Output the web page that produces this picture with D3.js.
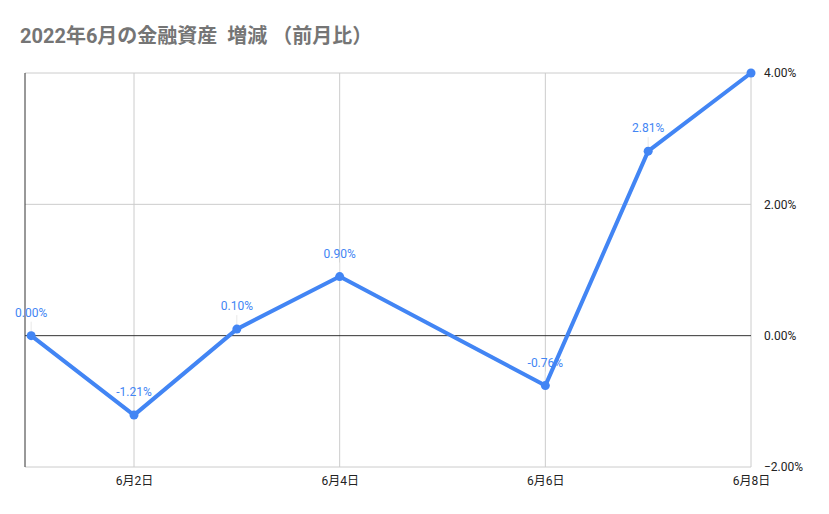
<!DOCTYPE html>
<html>
<head>
<meta charset="utf-8">
<script src="https://cdn.jsdelivr.net/npm/d3@7"></script>
<style>
  body { margin: 0; background: #fff; }
  text { font-family: Roboto, "Noto Sans CJK JP", sans-serif; }
</style>
</head>
<body>
<svg id="chart"></svg>
<script>
// data
const days = [1, 2, 3, 4, 6, 7, 8];
const values = [0.0, -1.21, 0.1, 0.9, -0.76, 2.81, 4.0];
const labels = ["0.00%", "-1.21%", "0.10%", "0.90%", "-0.76%", "2.81%", ""];
const xTicks = [2, 4, 6, 8];
const yTicks = [-2, 0, 2, 4];

const width = 829;
const height = 514;
const margin = { top: 73, right: 78, bottom: 47, left: 25 };

const svg = d3.select("#chart")
  .attr("width", width)
  .attr("height", height);

// title
svg.append("text")
  .attr("x", 20)
  .attr("y", 43)
  .style("font-size", "20px")
  .style("font-weight", "bold")
  .style("fill", "#757575")
  .style("white-space", "pre")
  .text("2022年6月の金融資産  増減 （前月比）");

const x = d3.scaleLinear()
  .domain([0.94, 8])
  .range([margin.left, width - margin.right]);

const y = d3.scaleLinear()
  .domain([-2, 4])
  .range([height - margin.bottom, margin.top]);

const g = svg.append("g");

// grid lines
g.selectAll("line.hgrid")
  .data(yTicks.filter(d => d !== 0))
  .enter()
  .append("line")
  .attr("x1", x.range()[0])
  .attr("x2", x.range()[1])
  .attr("y1", d => y(d))
  .attr("y2", d => y(d))
  .attr("stroke", "#cccccc")
  .attr("stroke-width", 1);

g.selectAll("line.vgrid")
  .data(xTicks)
  .enter()
  .append("line")
  .attr("x1", d => x(d))
  .attr("x2", d => x(d))
  .attr("y1", y.range()[0])
  .attr("y2", y.range()[1])
  .attr("stroke", "#cccccc")
  .attr("stroke-width", 1);

// zero line and left axis line
g.append("line")
  .attr("x1", x.range()[0])
  .attr("x2", x.range()[1])
  .attr("y1", y(0))
  .attr("y2", y(0))
  .attr("stroke", "#333333")
  .attr("stroke-width", 1);

g.append("line")
  .attr("x1", x.range()[0])
  .attr("x2", x.range()[0])
  .attr("y1", y.range()[0])
  .attr("y2", y.range()[1])
  .attr("stroke", "#333333")
  .attr("stroke-width", 1);

// right axis
const yAxis = d3.axisRight(y)
  .tickValues(yTicks)
  .tickSize(0)
  .tickPadding(13)
  .tickFormat(d => d3.format(".2f")(d) + "%");

svg.append("g")
  .attr("transform", "translate(" + x.range()[1] + ",0)")
  .call(yAxis)
  .call(s => s.select(".domain").remove())
  .selectAll("text")
  .style("font-size", "12px")
  .style("fill", "#222222");

// bottom axis
const xAxis = d3.axisBottom(x)
  .tickValues(xTicks)
  .tickSize(0)
  .tickPadding(9)
  .tickFormat(d => "6月" + d + "日");

svg.append("g")
  .attr("transform", "translate(0," + y.range()[0] + ")")
  .call(xAxis)
  .call(s => s.select(".domain").remove())
  .selectAll("text")
  .style("font-size", "12px")
  .style("fill", "#222222");

const points = days.map((d, i) => ({ day: d, value: values[i], label: labels[i] }));

// leader lines for data labels
g.selectAll("line.leader")
  .data(points.filter(p => p.label))
  .enter()
  .append("line")
  .attr("x1", d => x(d.day))
  .attr("x2", d => x(d.day))
  .attr("y1", d => y(d.value) - 4)
  .attr("y2", d => y(d.value) - 14)
  .attr("stroke", "#e8e8e8")
  .attr("stroke-width", 1);

// line
const line = d3.line()
  .x(d => x(d.day))
  .y(d => y(d.value));

g.append("path")
  .datum(points)
  .attr("d", line)
  .attr("fill", "none")
  .attr("stroke", "#4285f4")
  .attr("stroke-width", 4)
  .attr("stroke-linejoin", "round");

g.selectAll("circle")
  .data(points)
  .enter()
  .append("circle")
  .attr("cx", d => x(d.day))
  .attr("cy", d => y(d.value))
  .attr("r", 4.5)
  .attr("fill", "#4285f4");

// data labels
g.selectAll("text.label")
  .data(points.filter(p => p.label))
  .enter()
  .append("text")
  .attr("x", d => x(d.day))
  .attr("y", d => y(d.value) - 19)
  .attr("text-anchor", "middle")
  .style("font-size", "12px")
  .style("fill", "#4285f4")
  .text(d => d.label);
</script>
</body>
</html>
